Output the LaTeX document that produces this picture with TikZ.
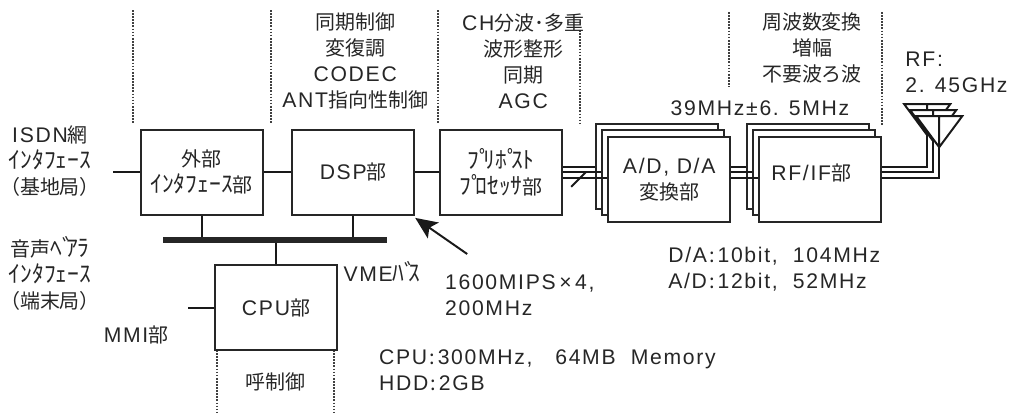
\documentclass[tikz,border=0pt]{standalone}
\usepackage{fontspec}
\setmainfont[LetterSpace=8,Scale=1.06]{Liberation Sans}
\newfontfamily\cjk{Noto Sans CJK JP}
\newfontfamily\kana[Scale=1.18]{Noto Sans CJK JP}
\newcommand{\jp}[1]{{\cjk #1}}
\newcommand{\kn}[1]{{\kana #1}}
\newcommand{\dk}{\kern-.33em}
\newcommand{\cln}{\hspace{.12em}\jp{:}\hspace{.12em}}
\usetikzlibrary{arrows.meta, positioning, calc}

\begin{document}
\begin{tikzpicture}[
    font=\fontsize{14.2}{18.5}\selectfont,
    text=black!85,
    block/.style={rectangle, draw=black!85, fill=white, line width=1.4pt, minimum width=3.05cm, minimum height=2.125cm, inner sep=0pt, align=center},
    txt/.style={inner sep=0pt, align=center},
    txtl/.style={inner sep=0pt, align=left, anchor=west},
    link/.style={draw=black!90, line width=1.4pt},
    msg/.style={-{Stealth[length=5.5mm, width=4.8mm, inset=1.2mm]}, line width=1.4pt, draw=black!90},
    sep/.style={densely dotted, line width=1.2pt, black!75}
]
    \useasboundingbox (0,0) rectangle (25.5,-10.325);

    % Dotted separators
    \foreach \x/\ya/\yb in {3.33/-.25/-3.08, 6.78/-.25/-3.08, 10.95/-.25/-3.1, 14.5/-.75/-3.12, 18.22/-.3/-2.18, 22.05/-.3/-3.15, 5.43/-8.75/-10.3, 8.35/-8.75/-10.3}
        \draw[sep] (\x,\ya) -- (\x,\yb);

    % Blocks
    \node[block] (ext) at (5.04,-4.31) {\jp{外部}\\\kn{ｲﾝﾀﾌｪｰｽ}\jp{部}};
    \node[block] (dsp) at (8.83,-4.31) {DSP\jp{部}};
    \node[block] (pre) at (12.53,-4.31) {\kn{ﾌﾟ\dk ﾘﾎﾟ\dk ｽﾄ}\\\kn{ﾌﾟ\dk ﾛｾｯｻ}\jp{部}};
    \node[block] (adback) at (16.43,-4.16) {};
    \node[block] (admid) at (16.58,-4.31) {};
    \node[block] (adfront) at (16.73,-4.49) {A/D, D/A\\\jp{変換部}};
    \node[block] (rfback) at (20.21,-4.16) {};
    \node[block] (rfmid) at (20.36,-4.31) {};
    \node[block] (rffront) at (20.51,-4.49) {};
    \node[txt] (rflabel) at (20.28,-4.32) {RF/IF\jp{部}};
    \node[block] (cpu) at (6.9,-7.69) {CPU\jp{部}};
    \node[rectangle, fill=black!85, minimum width=5.6cm, minimum height=.15cm, inner sep=0pt] (bus) at (6.88,-6) {};

    % Bus and chain
    \coordinate (isdn) at (2.83,-4.31);
    \coordinate (mmi) at (4.7,-7.69);
    \draw[link] (isdn) -- (ext.west);
    \draw[link] (ext.east) -- (dsp.west);
    \draw[link] (dsp.east) -- (pre.west);
    \draw[link] (mmi) -- (cpu.west);
    \draw[link] (ext.south) -- (ext.south |- bus.north);
    \draw[link] (dsp.south) -- (dsp.south |- bus.north);
    \draw[link] (cpu.north) -- (cpu.north |- bus.south);

    % Triple lines
    \draw[link] ([yshift=.14cm]pre.east) -- ([yshift=.14cm]pre.east -| adback.west);
    \draw[link] (pre.east) -- (pre.east -| admid.west);
    \draw[link] ([yshift=-.14cm]pre.east) -- ([yshift=-.14cm]pre.east -| adfront.west);
    \draw[link] ([yshift=.31cm]adfront.east) -- ([yshift=.31cm]adfront.east -| rfback.west);
    \draw[link] ([yshift=.18cm]adfront.east) -- ([yshift=.18cm]adfront.east -| rfmid.west);
    \draw[link] ([yshift=.04cm]adfront.east) -- ([yshift=.04cm]adfront.east -| rffront.west);
    \coordinate (slasha) at (14.28,-4.67);
    \coordinate (slashb) at (14.65,-4.3);
    \draw[link] (slasha) -- (slashb);

    % Antenna
    \coordinate (apexa) at (23.18,-3.38);
    \coordinate (apexb) at (23.33,-3.53);
    \coordinate (apexc) at (23.48,-3.68);
    \draw[link] ([yshift=.31cm]rffront.east) -| (apexa);
    \draw[link] ([yshift=.18cm]rffront.east) -| (apexb);
    \draw[link] ([yshift=.04cm]rffront.east) -| (apexc);
    \foreach \a in {apexa, apexb, apexc}
        \draw[link, fill=white] (\a) -- ++(-.575,.775) -- ++(1.15,0) -- cycle (\a) -- ++(0,.775);

    % Arrow to DSP
    \coordinate (dspnote) at (11.68,-6.35);
    \draw[msg] (dspnote) -- ([yshift=-.05cm]dsp.south east);

    % Upper captions
    \node[txt] (dspcap) at (8.88,-1.53) {\jp{同期制御}\\\jp{変復調}\\CODEC\\ANT\jp{指向性制御}};
    \node[txt] (chcap) at (13.08,-1.53) {CH\jp{分波･多重}\\\jp{波形整形}\\\jp{同期}\\AGC};
    \node[txt] (rfcap) at (20.3,-1.2) {\jp{周波数変換}\\\jp{増幅}\\\jp{不要波ろ波}};
    \node[txtl] (rfband) at (22.63,-1.81) {RF:\\2. 45GHz};
    \node[txt] (ifband) at (19.0,-2.7) {39MHz±6. 5MHz};

    % Left captions
    \node[txt] (isdnlab) at (1.25,-4.03) {ISDN\jp{網}\\\kn{ｲﾝﾀﾌｪｰｽ}\\\jp{（基地局）}};
    \node[txt] (bearer) at (1.25,-6.83) {\jp{音声}\kn{ﾍﾞ\dk ｱﾗ}\\\kn{ｲﾝﾀﾌｪｰｽ}\\\jp{（端末局）}};
    \node[txt] (mmilab) at (3.4,-8.38) {MMI\jp{部}};
    \node[txt] (vme) at (9.55,-6.78) {VME\kn{ﾊﾞ\dk ｽ}};
    \node[txt] (call) at (6.88,-9.55) {\jp{呼制御}};

    % Lower specs
    \node[txtl] (dspspec) at (11.12,-7.38) {1600MIPS\,×\,4,\\200MHz};
    \node[txtl] (adspec) at (16.7,-6.73) {D/A\cln 10bit,\ \ 104MHz\\A/D\cln 12bit,\ \ 52MHz};
    \node[txtl] (cpuspec) at (9.47,-9.25) {CPU\cln 300MHz,\ \ \ 64MB\ \ Memory\\HDD\cln 2GB};
\end{tikzpicture}
\end{document}
